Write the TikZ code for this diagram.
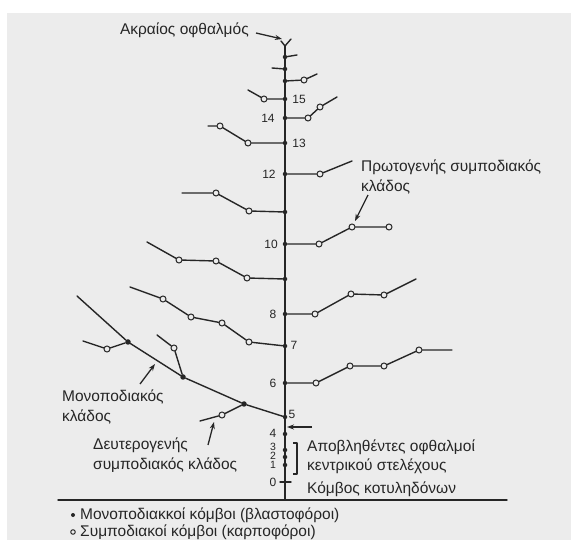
\documentclass[tikz,border=0pt]{standalone}
\usepackage{fontspec}
\setmainfont{Liberation Sans}
\usetikzlibrary{arrows.meta}
\definecolor{ink}{HTML}{262626}
\definecolor{bg}{HTML}{ECECEC}
\tikzset{
  ln/.style={line width=1.4pt, draw=ink, line join=round, line cap=round},
  stemline/.style={line width=1.8pt, draw=ink},
  oc/.style={circle, draw=ink, fill=bg, line width=1pt, inner sep=0pt, minimum size=6pt},
  fc/.style={circle, fill=ink, inner sep=0pt, minimum size=5.5pt},
  sd/.style={circle, fill=ink, inner sep=0pt, minimum size=4.5pt},
  lbl/.style={font=\fontsize{15.5}{19.5}\selectfont, text=ink, inner sep=0pt, align=left},
  num/.style={font=\fontsize{12}{12}\selectfont, text=ink, inner sep=0pt},
  smallnum/.style={font=\fontsize{10.5}{10.5}\selectfont, text=ink, inner sep=0pt},
  arr/.style={line width=1.3pt, draw=ink, -{Stealth[length=7pt,width=5pt]}},
}
\begin{document}
\begin{tikzpicture}[x=1pt,y=-1pt]
\useasboundingbox (0,0) rectangle (571,540);
\fill[white] (0,0) rectangle (571,540);
\fill[bg] (7,13) rectangle (571,540);

% ground line
\coordinate (gl) at (58,500);
\coordinate (gr) at (507,500);
\draw[ln] (gl) -- (gr);

% main stem
\coordinate (top) at (285,46);
\coordinate (base) at (285,500);
\coordinate (ya) at (281,41);
\coordinate (yb) at (291,39);
\draw[stemline] (top) -- (base);
\draw[ln] (ya) -- (top) -- (yb);

% stem nodes
\foreach \n/\y in {a/57,b/69,c/81,n15/99,n14/118,n13/143,n12/174,n11/212,n10/244,n9/279,n8/314,n7/346,n6/383,n5/417,n4/434,n3/450,n2/457,n1/465}
  \node[sd] (s\n) at (285,\y) {};
\coordinate (t0l) at (280,482);
\coordinate (t0r) at (291,482);
\draw[ln] (t0l) -- (t0r);

% stem numbers
\node[num] (l15) at (299,99) {15};
\node[num] (l14) at (268,118) {14};
\node[num] (l13) at (299,143) {13};
\node[num] (l12) at (269,174) {12};
\node[num] (l10) at (271,244) {10};
\node[num] (l8) at (273,314) {8};
\node[num] (l7) at (294,345) {7};
\node[num] (l6) at (273,383) {6};
\node[num] (l5) at (292,414) {5};
\node[num] (l4) at (273,433) {4};
\node[smallnum] (l3) at (273,447) {3};
\node[smallnum] (l2) at (273,456) {2};
\node[smallnum] (l1) at (273,465) {1};
\node[num] (l0) at (273,482) {0};

% bracket
\coordinate (br1) at (293,443);
\coordinate (br2) at (297,443);
\coordinate (br3) at (297,474);
\coordinate (br4) at (293,474);
\draw[ln, line cap=butt] (br1) -- (br2) -- (br3) -- (br4);

% top stubs
\coordinate (ea) at (297,55);
\coordinate (eb) at (272,68);
\draw[ln] (sa) -- (ea);
\draw[ln] (sb) -- (eb);

% branch at 81
\node[oc] (c1) at (304,80) {};
\coordinate (e1) at (317,74);
\draw[ln] (sc) -- (c1) -- (e1);

% 15
\node[oc] (c15) at (264,99) {};
\coordinate (e15) at (248,90);
\draw[ln] (sn15) -- (c15) -- (e15);

% 14
\node[oc] (c14a) at (308,118) {};
\node[oc] (c14b) at (320,107) {};
\coordinate (e14) at (337,97);
\draw[ln] (sn14) -- (c14a) -- (c14b) -- (e14);

% 13
\node[oc] (c13a) at (248,143) {};
\node[oc] (c13b) at (220,126) {};
\coordinate (e13) at (208,126);
\draw[ln] (sn13) -- (c13a) -- (c13b) -- (e13);

% 12
\node[oc] (c12) at (320,174) {};
\coordinate (e12) at (352,161);
\draw[ln] (sn12) -- (c12) -- (e12);

% 11
\node[oc] (c11a) at (249,211) {};
\node[oc] (c11b) at (216,193) {};
\coordinate (e11) at (182,193);
\draw[ln] (sn11) -- (c11a) -- (c11b) -- (e11);

% 10
\node[oc] (c10a) at (319,244) {};
\node[oc] (c10b) at (352,227) {};
\node[oc] (c10c) at (389,227) {};
\draw[ln] (sn10) -- (c10a) -- (c10b) -- (c10c);

% 9
\node[oc] (c9a) at (247,278) {};
\node[oc] (c9b) at (216,261) {};
\node[oc] (c9c) at (179,260) {};
\coordinate (e9) at (147,242);
\draw[ln] (sn9) -- (c9a) -- (c9b) -- (c9c) -- (e9);

% 8
\node[oc] (c8a) at (315,314) {};
\node[oc] (c8b) at (351,294) {};
\node[oc] (c8c) at (384,295) {};
\coordinate (e8) at (416,279);
\draw[ln] (sn8) -- (c8a) -- (c8b) -- (c8c) -- (e8);

% 7
\node[oc] (c7a) at (249,342) {};
\node[oc] (c7b) at (222,323) {};
\node[oc] (c7c) at (191,317) {};
\node[oc] (c7d) at (163,299) {};
\coordinate (e7) at (130,287);
\draw[ln] (sn7) -- (c7a) -- (c7b) -- (c7c) -- (c7d) -- (e7);

% 6
\node[oc] (c6a) at (316,383) {};
\node[oc] (c6b) at (350,366) {};
\node[oc] (c6c) at (384,366) {};
\node[oc] (c6d) at (419,350) {};
\coordinate (e6) at (452,350);
\draw[ln] (sn6) -- (c6a) -- (c6b) -- (c6c) -- (c6d) -- (e6);

% monopodial branch from 5
\node[fc] (m1) at (244,404) {};
\node[fc] (m2) at (183,377) {};
\node[fc] (m3) at (128,342) {};
\coordinate (me) at (77,296);
\draw[ln] (sn5) -- (m1) -- (m2) -- (m3) -- (me);

\node[oc] (m1c) at (222,415) {};
\coordinate (m1e) at (200,421);
\draw[ln] (m1) -- (m1c) -- (m1e);

\node[oc] (m2c) at (174,348) {};
\coordinate (m2e) at (157,335);
\draw[ln] (m2) -- (m2c) -- (m2e);

\node[oc] (m3c) at (107,349) {};
\coordinate (m3e) at (83,341);
\draw[ln] (m3) -- (m3c) -- (m3e);

% texts
\node[lbl, anchor=east] (ttop) at (249,30) {Ακραίος οφθαλμός};
\node[lbl, anchor=west] (tprim) at (361,177) {Πρωτογενής συμποδιακός\\κλάδος};
\node[lbl, anchor=west] (tmono) at (62,407) {Μονοποδιακός\\κλάδος};
\node[lbl, anchor=west] (tdeut) at (93,455) {Δευτερογενής\\συμποδιακός κλάδος};
\node[lbl, anchor=west] (tapob) at (307,457) {Αποβληθέντες οφθαλμοί\\κεντρικού στελέχους};
\node[lbl, anchor=west] (tkot) at (307,489) {Κόμβος κοτυληδόνων};

% arrows
\coordinate (a1s) at (256,33);
\coordinate (a1e) at (282,39);
\draw[arr] (a1s) -- (a1e);
\coordinate (a2s) at (368,195);
\coordinate (a2e) at (355,221);
\draw[arr] (a2s) -- (a2e);
\coordinate (a3s) at (140,384);
\coordinate (a3e) at (155,364);
\draw[arr] (a3s) -- (a3e);
\coordinate (a4s) at (208,445);
\coordinate (a4e) at (214,422);
\draw[arr] (a4s) -- (a4e);
\coordinate (a5s) at (312,427);
\coordinate (a5e) at (287,427);
\draw[arr] (a5s) -- (a5e);

% legend
\node[fc, minimum size=4pt] (lg1) at (73,515) {};
\node[lbl, anchor=west] (lgt1) at (80,515) {Μονοποδιακκοί κόμβοι (βλαστοφόροι)};
\node[oc, minimum size=4.5pt] (lg2) at (73,532) {};
\node[lbl, anchor=west] (lgt2) at (80,532) {Συμποδιακοί κόμβοι (καρποφόροι)};
\end{tikzpicture}
\end{document}
